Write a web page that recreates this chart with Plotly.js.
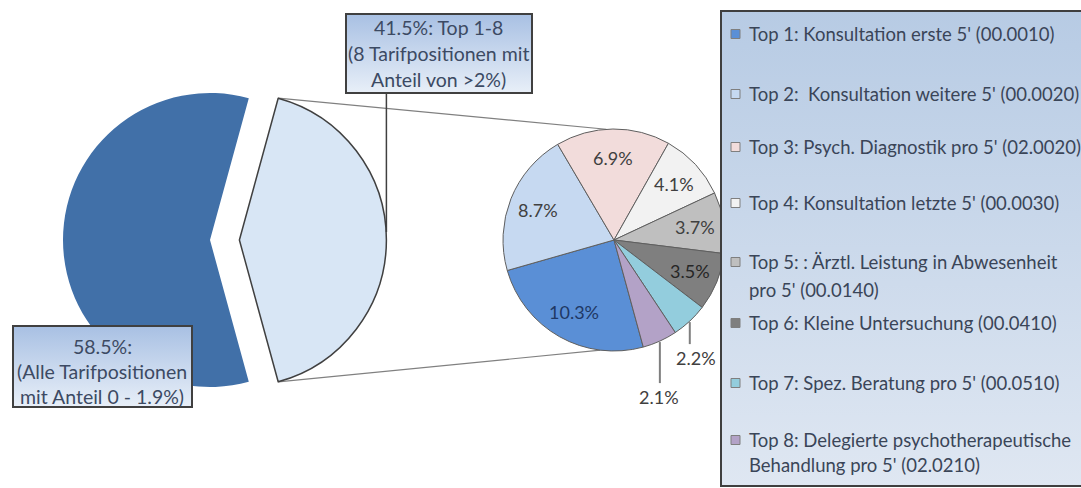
<!DOCTYPE html>
<html>
<head>
<meta charset="utf-8">
<script src="https://cdn.plot.ly/plotly-3.0.1.min.js"></script>
<style>html,body{margin:0;padding:0;background:#fff;}#chart{width:1081px;height:488px;}</style>
</head>
<body>
<div id="chart"></div>
<script>
// ---------- data ----------
const bigLabels = ['Top 1-8', 'Alle übrigen Tarifpositionen'];
const bigValues = [41.5, 58.5];
const bigColors = ['#d8e6f5', '#4170a8'];

const topLabels = ['Top 1', 'Top 2', 'Top 3', 'Top 4', 'Top 5', 'Top 6', 'Top 7', 'Top 8'];
const topValues = [10.3, 8.7, 6.9, 4.1, 3.7, 3.5, 2.2, 2.1];
const topColors = ['#5a8fd6', '#c6d9f1', '#f2dcdb', '#f2f2f2', '#bfbfbf', '#7f7f7f', '#93cddd', '#b3a2c7'];
const topTextColors = ['#1f3864', '#404040', '#404040', '#404040', '#404040', '#262626', '#404040', '#404040'];

const legendLabels = [
  "Top 1: Konsultation erste 5' (00.0010)",
  "Top 2:\u00a0 Konsultation weitere 5' (00.0020)",
  "Top 3: Psych. Diagnostik pro 5' (02.0020)",
  "Top 4: Konsultation letzte 5' (00.0030)",
  "Top 5: : Ärztl. Leistung in Abwesenheit<br>pro 5' (00.0140)",
  "Top 6: Kleine Untersuchung (00.0410)",
  "Top 7: Spez. Beratung pro 5' (00.0510)",
  "Top 8: Delegierte psychotherapeutische<br>Behandlung pro 5' (02.0210)"
];

// ---------- layout geometry ----------
const W = 1081, H = 488;
const FONT = 'Lato, "Liberation Sans", sans-serif';
const px = x => x / W;
const py = y => 1 - y / H;

const bigTotal = bigValues.reduce((a, b) => a + b, 0);
const topTotal = topValues.reduce((a, b) => a + b, 0);
const deg = Math.PI / 180;

// big pie
const B = {cx: 210, cy: 240, r: 147, pull: 0.2};
const bigSpan = bigValues[0] / bigTotal * 360;
const bigRotation = 90 - bigSpan / 2;           // first slice centred at 3 o'clock
const bigHalf = B.r * (1 + B.pull);
const bigDomain = {x: [px(B.cx - bigHalf), px(B.cx + bigHalf)], y: [py(B.cy + bigHalf), py(B.cy - bigHalf)]};

// small pie
const S = {cx: 614, cy: 240, r: 111};
const smallRotation = bigRotation + bigSpan;     // 164.7°
const smallDomain = {x: [px(S.cx - S.r), px(S.cx + S.r)], y: [py(S.cy + S.r), py(S.cy - S.r)]};

function pt(cx, cy, r, angDeg) { return [cx + r * Math.sin(angDeg * deg), cy - r * Math.cos(angDeg * deg)]; }

// pulled slice corners
const pullOff = pt(0, 0, B.pull * B.r, 90);
const cornerTop = pt(B.cx + pullOff[0], B.cy + pullOff[1], B.r, bigRotation);
const cornerBot = pt(B.cx + pullOff[0], B.cy + pullOff[1], B.r, bigRotation + bigSpan);
const smallTop = pt(S.cx, S.cy, S.r, -4);
const smallBot = pt(S.cx, S.cy, S.r, 187);

const shapes = [];
const annotations = [];
const images = [];

function lineShape(x0, y0, x1, y1, color, width, layer) {
  shapes.push({type: 'line', xref: 'paper', yref: 'paper', x0: px(x0), y0: py(y0), x1: px(x1), y1: py(y1),
    line: {color: color, width: width}, layer: layer || 'above'});
}
lineShape(cornerTop[0], cornerTop[1], smallTop[0], smallTop[1], '#808080', 1.2, 'below');
lineShape(cornerBot[0], cornerBot[1], smallBot[0], smallBot[1], '#808080', 1.2, 'below');

// gradient box as inline svg image
function gradBox(x, y, w, h, top, bottom, stroke, sw) {
  const svg = `<svg xmlns="http://www.w3.org/2000/svg" width="${w}" height="${h}" viewBox="0 0 ${w} ${h}">` +
    `<defs><linearGradient id="g" x1="0" y1="0" x2="0" y2="1"><stop offset="0" stop-color="${top}"/><stop offset="1" stop-color="${bottom}"/></linearGradient></defs>` +
    `<rect x="${sw/2}" y="${sw/2}" width="${w-sw}" height="${h-sw}" fill="url(#g)" stroke="${stroke}" stroke-width="${sw}"/></svg>`;
  images.push({source: 'data:image/svg+xml;charset=utf-8,' + encodeURIComponent(svg), xref: 'paper', yref: 'paper',
    x: px(x), y: py(y), sizex: w / W, sizey: h / H, xanchor: 'left', yanchor: 'top', sizing: 'stretch', layer: 'above'});
}

function txt(x, y, text, size, color, anchor) {
  annotations.push({xref: 'paper', yref: 'paper', x: px(x), y: py(y), text: text, showarrow: false,
    xanchor: anchor || 'center', yanchor: 'middle', font: {family: FONT, size: size, color: color}});
}

// callout box 1 (Top 1-8)
gradBox(345, 13, 188, 81, '#a8c0e3', '#e8eff8', '#404040', 2);
lineShape(B.cx + pullOff[0] + B.r, 94, B.cx + pullOff[0] + B.r, 232, '#404040', 1.5);
const boxTxtCol = '#3c4a63';
const boxFont = 19.5;
txt(438, 28, `${bigValues[0]}%: Top 1-${topValues.length}`, boxFont, boxTxtCol);
txt(438, 54, `(${topValues.length} Tarifpositionen mit`, boxFont, boxTxtCol);
txt(438, 80, 'Anteil von >2%)', boxFont, boxTxtCol);

// callout box 2 (rest)
gradBox(12, 325, 181, 83, '#a8c0e3', '#e8eff8', '#404040', 2);
txt(102, 346, `${bigValues[1]}%:`, boxFont, boxTxtCol);
txt(102, 371, '(Alle Tarifpositionen', boxFont, boxTxtCol);
txt(102, 396, 'mit Anteil 0 - 1.9%)', boxFont, boxTxtCol);

// small pie labels
const pieFont = 18;
let a = smallRotation;
topValues.forEach((v, i) => {
  const span = v / topTotal * 360;
  const mid = a + span / 2;
  a += span;
  const label = v.toFixed(1) + '%';
  if (i < 6) {
    const p = pt(S.cx, S.cy, S.r * 0.74, mid);
    txt(p[0], p[1], label, pieFont, topTextColors[i]);
  } else {
    const e = pt(S.cx, S.cy, S.r, mid);
    const drop = i === 6 ? 37 : 56;
    const dx = i === 6 ? 6 : -1;
    lineShape(e[0], e[1] + 1, e[0], e[1] + drop - 14, '#7f7f7f', 2);
    txt(e[0] + dx, e[1] + drop, label, pieFont, topTextColors[i]);
  }
});

// legend box
gradBox(720, 10, 380, 477, '#b7cbe4', '#dfe7f2', '#3f3f3f', 2);
const legendY = [34, 94, 147, 203, 262, 323, 383, 440];
const legLine = [0, 0, 0, 0, 28, 0, 0, 25];
const legCol = '#3a4558';
const legFont = 18.5;
legendLabels.forEach((lab, i) => {
  const y = legendY[i];
  shapes.push({type: 'rect', xref: 'paper', yref: 'paper', x0: px(731), x1: px(740), y0: py(y - 4.5), y1: py(y + 4.5),
    fillcolor: topColors[i], line: {color: '#7f7f7f', width: 1}, layer: 'above'});
  lab.split('<br>').forEach((ln, j) => {
    txt(747, y + j * legLine[i], ln, legFont, legCol, 'left');
  });
});

const traces = [
  {
    type: 'pie', labels: bigLabels, values: bigValues, sort: false, direction: 'clockwise', rotation: bigRotation,
    pull: [B.pull, 0], domain: bigDomain, textinfo: 'none', hoverinfo: 'none',
    marker: {colors: bigColors, line: {color: ['#404040', bigColors[1]], width: [1.5, 0]}}
  },
  {
    type: 'pie', labels: topLabels, values: topValues, sort: false, direction: 'clockwise', rotation: smallRotation,
    domain: smallDomain, textinfo: 'none', hoverinfo: 'none',
    marker: {colors: topColors, line: {color: '#5f5f5f', width: 1}}
  }
];

const layout = {
  width: W, height: H, autosize: false, showlegend: false,
  margin: {l: 0, r: 0, t: 0, b: 0, pad: 0},
  paper_bgcolor: '#ffffff', plot_bgcolor: '#ffffff',
  font: {family: FONT},
  shapes: shapes, annotations: annotations, images: images
};

Plotly.newPlot('chart', traces, layout, {displayModeBar: false, staticPlot: true});
</script>
</body>
</html>
